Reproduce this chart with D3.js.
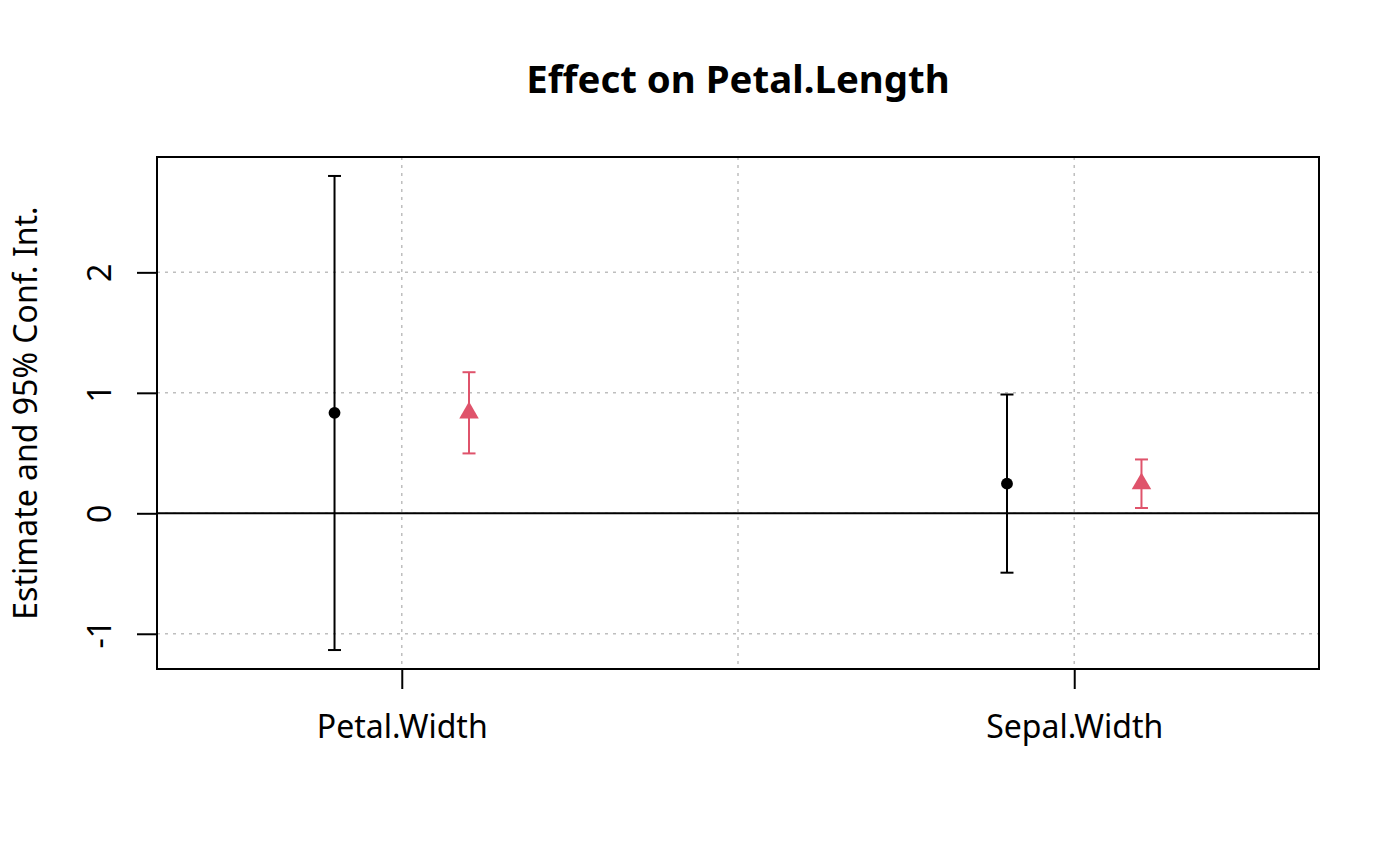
<!DOCTYPE html>
<html>
<head>
<meta charset="utf-8">
<script src="https://cdn.jsdelivr.net/npm/d3@7"></script>
<style>
  body { margin: 0; background: #fff; }
  text { font-family: "Noto Sans", sans-serif; fill: #000; }
</style>
</head>
<body>
<div id="chart"></div>
<script>
// coefficient names on the x axis
var terms = ["Petal.Width", "Sepal.Width"];
var yTicks = [-1, 0, 1, 2];

// first model (black dots)
var estA = [0.834, 0.246];
var lowA = [-1.135, -0.493];
var highA = [2.80, 0.986];

// second model (red triangles)
var estB = [0.834, 0.246];
var lowB = [0.497, 0.044];
var highB = [1.171, 0.447];

var margin = { top: 157, right: 81, bottom: 197, left: 157 },
  width = 1400 - margin.left - margin.right,
  height = 866 - margin.top - margin.bottom;

var svg = d3.select("#chart")
  .append("svg")
  .attr("width", width + margin.left + margin.right)
  .attr("height", height + margin.top + margin.bottom);

var g = svg.append("g")
  .attr("transform", "translate(" + margin.left + "," + margin.top + ")");

// R style axis ranges: data range stretched 4% on each side
var xlim = [0.7, terms.length + 0.3];
var xr = xlim[1] - xlim[0];
var x = d3.scaleLinear()
  .domain([xlim[0] - 0.04 * xr, xlim[1] + 0.04 * xr])
  .range([0, width]);

var allVals = lowA.concat(highA, lowB, highB);
var ylim = d3.extent(allVals);
var yr = ylim[1] - ylim[0];
var y = d3.scaleLinear()
  .domain([ylim[0] - 0.04 * yr, ylim[1] + 0.04 * yr])
  .range([height, 0]);

var red = "#DF536B";

// grid lines
var gridX = [1, 1.5, 2];
g.selectAll(".gx").data(gridX).enter().append("line")
  .attr("x1", d => x(d)).attr("x2", d => x(d))
  .attr("y1", 0).attr("y2", height)
  .attr("stroke", "#bebebe").attr("stroke-width", 1.5)
  .attr("stroke-dasharray", "3,5");

g.selectAll(".gy").data(yTicks).enter().append("line")
  .attr("x1", 0).attr("x2", width)
  .attr("y1", d => y(d)).attr("y2", d => y(d))
  .attr("stroke", "#bebebe").attr("stroke-width", 1.5)
  .attr("stroke-dasharray", "3,5");

// zero line
g.append("line")
  .attr("x1", 0).attr("x2", width)
  .attr("y1", y(0)).attr("y2", y(0))
  .attr("stroke", "#000").attr("stroke-width", 2);

// axes
var xAxis = g.append("g")
  .attr("transform", "translate(0," + height + ")")
  .call(d3.axisBottom(x).tickValues([1, 2]).tickSize(20).tickPadding(26)
    .tickFormat(d => terms[d - 1]));
xAxis.select(".domain").remove();
xAxis.selectAll("line").attr("stroke-width", 2);
xAxis.selectAll("text").attr("font-size", 32).attr("font-family", "Noto Sans");

var yAxis = g.append("g")
  .call(d3.axisLeft(y).tickValues(yTicks).tickSize(20).tickFormat(d => String(d)));
yAxis.select(".domain").remove();
yAxis.selectAll("line").attr("stroke-width", 2);
yAxis.selectAll("text")
  .attr("font-size", 32).attr("font-family", "Noto Sans")
  .attr("x", null).attr("dy", null)
  .attr("text-anchor", "middle")
  .attr("transform", "translate(-46,0) rotate(-90)");

// plot box
g.append("rect")
  .attr("width", width).attr("height", height)
  .attr("fill", "none").attr("stroke", "#000").attr("stroke-width", 2);

// error bars
function drawSeries(est, lo, hi, offset, colour, symbol, size) {
  var idx = d3.range(terms.length);
  var cap = 6.5;
  var s = g.append("g");
  s.selectAll(".bar").data(idx).enter().append("line")
    .attr("x1", i => x(i + 1 + offset)).attr("x2", i => x(i + 1 + offset))
    .attr("y1", i => y(lo[i])).attr("y2", i => y(hi[i]))
    .attr("stroke", colour).attr("stroke-width", 2);
  s.selectAll(".capHi").data(idx).enter().append("line")
    .attr("x1", i => x(i + 1 + offset) - cap).attr("x2", i => x(i + 1 + offset) + cap)
    .attr("y1", i => y(hi[i])).attr("y2", i => y(hi[i]))
    .attr("stroke", colour).attr("stroke-width", 2);
  s.selectAll(".capLo").data(idx).enter().append("line")
    .attr("x1", i => x(i + 1 + offset) - cap).attr("x2", i => x(i + 1 + offset) + cap)
    .attr("y1", i => y(lo[i])).attr("y2", i => y(lo[i]))
    .attr("stroke", colour).attr("stroke-width", 2);
  s.selectAll(".pt").data(idx).enter().append("path")
    .attr("d", d3.symbol().type(symbol).size(size))
    .attr("transform", i => "translate(" + x(i + 1 + offset) + "," + y(est[i]) + ")")
    .attr("fill", colour);
}

drawSeries(estA, lowA, highA, -0.1, "#000", d3.symbolCircle, 110);
drawSeries(estB, lowB, highB, 0.1, red, d3.symbolTriangle, 165);

// title
svg.append("text")
  .attr("x", margin.left + width / 2)
  .attr("y", 93)
  .attr("text-anchor", "middle")
  .attr("font-size", 38.4)
  .attr("font-weight", "bold")
  .text("Effect on Petal.Length");

// y label
svg.append("text")
  .attr("transform", "translate(37," + (margin.top + height / 2) + ") rotate(-90)")
  .attr("text-anchor", "middle")
  .attr("font-size", 32)
  .text("Estimate and 95% Conf. Int.");
</script>
</body>
</html>
